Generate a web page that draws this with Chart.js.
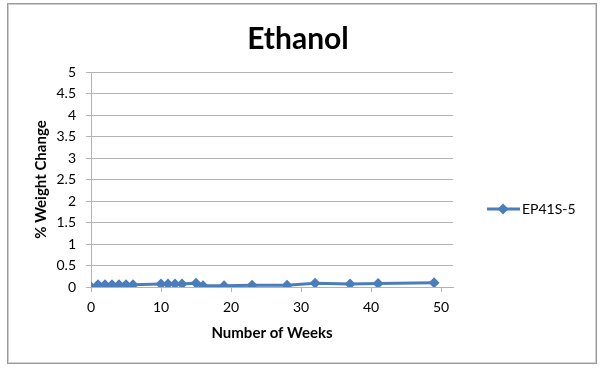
<!DOCTYPE html>
<html>
<head>
<meta charset="utf-8">
<script src="https://cdn.jsdelivr.net/npm/chart.js@4"></script>
<style>
  html, body { margin: 0; padding: 0; background: #fff; }
  #wrap { width: 600px; height: 372px; position: relative; }
</style>
</head>
<body>
<div id="wrap"><canvas id="ethanolChart"></canvas></div>
<script>
const weeks = [0, 1, 2, 3, 4, 5, 6, 10, 11, 12, 13, 15, 16, 19, 23, 28, 32, 37, 41, 49];
const weightChange = [0, 0.05, 0.05, 0.05, 0.05, 0.05, 0.05, 0.07, 0.07, 0.07, 0.07, 0.09, 0.03, 0.03, 0.04, 0.04, 0.09, 0.07, 0.08, 0.1];
const xTicks = [0, 10, 20, 30, 40, 50];
const yTicks = [0, 0.5, 1, 1.5, 2, 2.5, 3, 3.5, 4, 4.5, 5];
const seriesName = 'EP41S-5';

const lineColor = '#4a7ebb';
const gridColor = '#b3b3b3';
const fontFamily = 'Lato, "Open Sans", sans-serif';

// frame + white background
const framePlugin = {
  id: 'frame',
  beforeDraw(chart) {
    const ctx = chart.ctx;
    ctx.save();
    ctx.fillStyle = '#fff';
    ctx.fillRect(0, 0, chart.width, chart.height);
    ctx.strokeStyle = '#9a9a9a';
    ctx.lineWidth = 1;
    ctx.strokeRect(7.5, 3.5, 589, 360);
    ctx.strokeStyle = '#d0d0d0';
    ctx.strokeRect(8.5, 4.5, 587, 358);
    ctx.restore();
  }
};

// excel style legend: line with diamond
const sideLegend = {
  id: 'sideLegend',
  afterDraw(chart) {
    const ctx = chart.ctx;
    const ds = chart.data.datasets[0];
    const y = 209;
    ctx.save();
    ctx.strokeStyle = lineColor;
    ctx.lineWidth = 3;
    ctx.beginPath();
    ctx.moveTo(487, y);
    ctx.lineTo(520, y);
    ctx.stroke();
    ctx.fillStyle = lineColor;
    ctx.beginPath();
    ctx.moveTo(503, y - 5.5);
    ctx.lineTo(508.5, y);
    ctx.lineTo(503, y + 5.5);
    ctx.lineTo(497.5, y);
    ctx.closePath();
    ctx.fill();
    ctx.fillStyle = '#000';
    ctx.font = '14px ' + fontFamily;
    ctx.textBaseline = 'middle';
    ctx.fillText(ds.label, 522, y);
    ctx.restore();
  }
};

const ctx = document.getElementById('ethanolChart').getContext('2d');
new Chart(ctx, {
  type: 'line',
  data: {
    datasets: [{
      label: seriesName,
      data: weeks.map((w, i) => ({ x: w, y: weightChange[i] })),
      borderColor: lineColor,
      backgroundColor: lineColor,
      borderWidth: 3,
      pointStyle: 'rectRot',
      pointRadius: 5.5,
      pointBorderWidth: 0,
      tension: 0,
      fill: false
    }]
  },
  options: {
    responsive: true,
    maintainAspectRatio: false,
    animation: false,
    layout: { padding: { left: 8, right: 12, top: 0, bottom: 30 } },
    plugins: {
      legend: { display: false },
      tooltip: { enabled: false },
      title: {
        display: true,
        text: 'Ethanol',
        color: '#000',
        font: { family: fontFamily, size: 30, weight: 'bold', lineHeight: 1.2 },
        padding: { top: 21.5, bottom: 14.5 }
      }
    },
    scales: {
      x: {
        type: 'linear',
        min: 0,
        max: 51.7,
        afterBuildTicks: scale => { scale.ticks = xTicks.map(v => ({ value: v })); },
        afterFit: scale => { scale.height = 55; },
        ticks: { color: '#000', font: { family: fontFamily, size: 14 }, padding: 7, maxRotation: 0 },
        grid: { drawOnChartArea: false, drawTicks: true, tickLength: 5, color: gridColor },
        border: { color: gridColor },
        title: {
          display: true,
          text: 'Number of Weeks',
          color: '#000',
          font: { family: fontFamily, size: 15, weight: 'bold', lineHeight: 1.2 },
          padding: { top: 0, bottom: 0 }
        }
      },
      y: {
        min: 0,
        max: 5,
        afterBuildTicks: scale => { scale.ticks = yTicks.map(v => ({ value: v })); },
        afterFit: scale => { scale.width = 83; },
        ticks: {
          color: '#000',
          font: { family: fontFamily, size: 14 },
          padding: 10,
          callback: v => String(v)
        },
        grid: { color: gridColor, tickLength: 5 },
        border: { color: gridColor },
        title: {
          display: true,
          text: '% Weight Change',
          color: '#000',
          font: { family: fontFamily, size: 15, weight: 'bold', lineHeight: 1.2 },
          padding: { top: 24, bottom: 0 }
        }
      },
      spacer: {
        position: 'right',
        display: true,
        afterFit: scale => { scale.width = 135; },
        ticks: { display: false },
        grid: { display: false },
        border: { display: false }
      }
    }
  },
  plugins: [framePlugin, sideLegend]
});
</script>
</body>
</html>
